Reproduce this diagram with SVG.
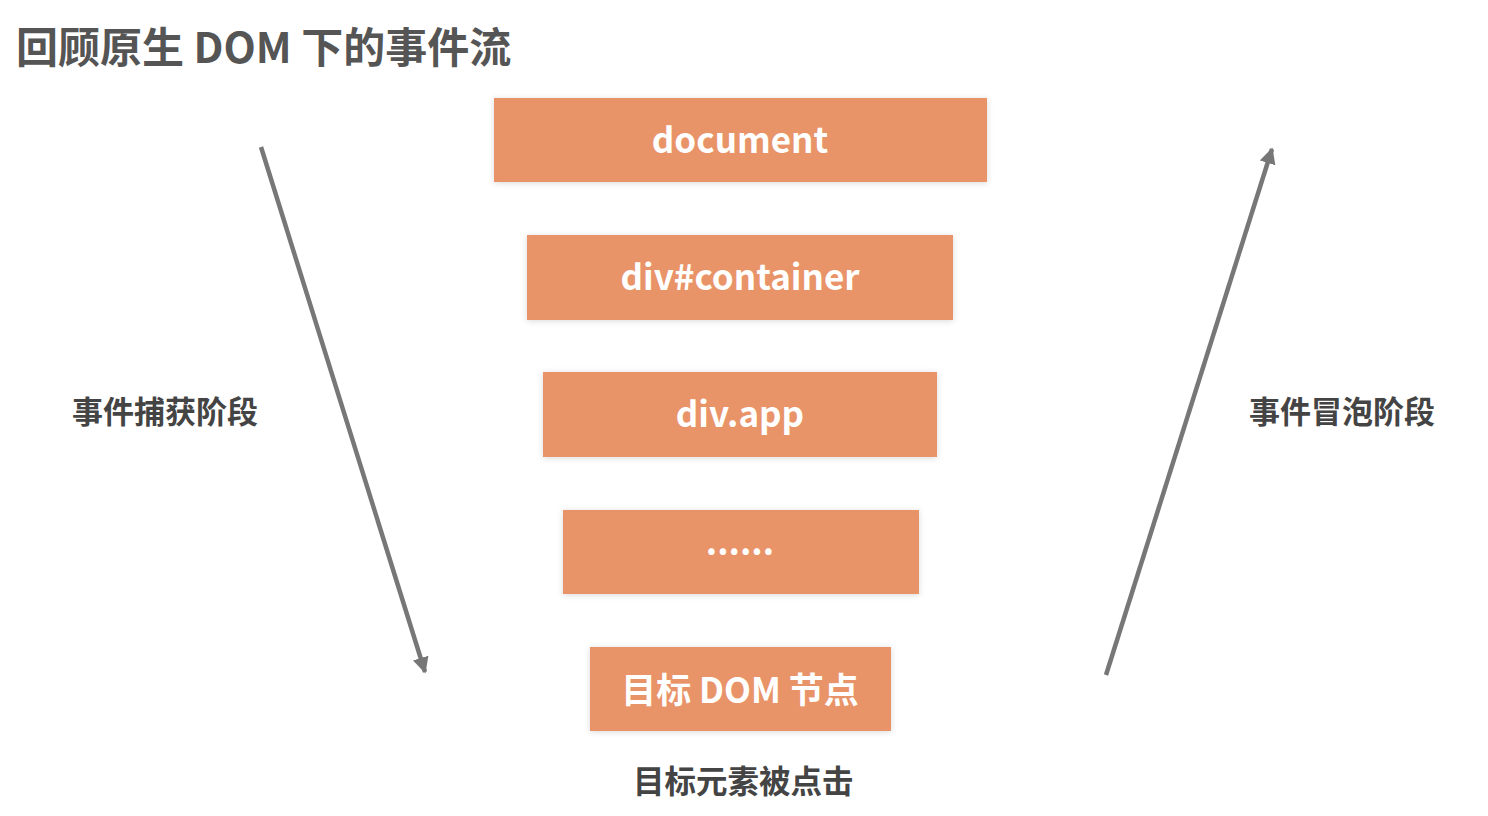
<svg xmlns="http://www.w3.org/2000/svg" width="1488" height="816" viewBox="0 0 1488 816">
<style>
text{font-family:"Noto Sans CJK SC","Noto Sans",sans-serif;font-weight:bold}
.box{fill:#E99368;filter:url(#sh)}
.bt{fill:#fff;font-size:35px;text-anchor:middle;dominant-baseline:central}
.lbl{fill:#444;font-size:31px;dominant-baseline:central}
.arr{stroke:#777;stroke-width:4.5;fill:none;marker-end:url(#ah)}
</style>
<defs>
<filter id="sh" x="-10%" y="-20%" width="120%" height="140%"><feDropShadow dx="0" dy="1" stdDeviation="3" flood-color="#000" flood-opacity="0.15"/></filter>
<marker id="ah" viewBox="0 0 10 10" refX="9" refY="5" markerWidth="3.6" markerHeight="3.6" orient="auto" markerUnits="strokeWidth"><path d="M0,0 L10,5 L0,10 z" fill="#777"/></marker>
</defs>
<rect width="1488" height="816" fill="#fff"/>
<text x="16" y="44" style="font-size:42px;fill:#555;dominant-baseline:central">回顾原生 DOM 下的事件流</text>
<g id="n1"><rect class="box" x="494" y="98" width="493" height="84"/><text class="bt" x="740" y="137">document</text></g>
<g id="n2"><rect class="box" x="527" y="235" width="426" height="85"/><text class="bt" x="740" y="274">div#container</text></g>
<g id="n3"><rect class="box" x="543" y="372" width="394" height="85"/><text class="bt" x="740" y="411">div.app</text></g>
<g id="n4"><rect class="box" x="563" y="510" width="356" height="84"/><text class="bt" x="740" y="539">......</text></g>
<g id="n5"><rect class="box" x="590" y="647" width="301" height="84"/><text class="bt" x="740" y="687">目标 DOM 节点</text></g>
<g id="connectors">
<line class="arr" x1="261" y1="147" x2="425" y2="672"/>
<line class="arr" x1="1106" y1="675" x2="1272" y2="149"/>
</g>
<text class="lbl" x="72" y="409">事件捕获阶段</text>
<text class="lbl" x="1249" y="409">事件冒泡阶段</text>
<text class="lbl" x="633" y="779" style="font-size:31.5px">目标元素被点击</text>
</svg>
